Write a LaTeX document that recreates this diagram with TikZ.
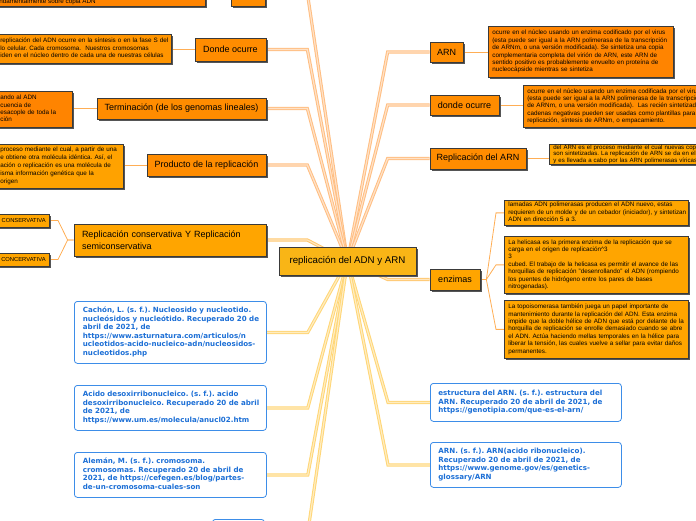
\documentclass[tikz,border=0pt]{standalone}
\usepackage{fontspec}
\setmainfont{Liberation Sans}
\newfontfamily\reffont{DejaVu Sans}
\usetikzlibrary{shadows}
\pgfdeclarelayer{bg}
\pgfsetlayers{bg,main}
\definecolor{orgN}{HTML}{FF8C00}
\definecolor{ambN}{HTML}{FFA500}
\definecolor{centc}{HTML}{F9B516}
\definecolor{txtA}{HTML}{FF8400}
\definecolor{txtB}{HTML}{FF9500}
\definecolor{txtC}{HTML}{FFA200}
\definecolor{borderc}{HTML}{3A3A3A}
\definecolor{shadowc}{HTML}{555555}
\definecolor{refline}{HTML}{3D8DE8}
\definecolor{reftext}{HTML}{1C6FD6}
\definecolor{orgC}{HTML}{FFBE82}
\definecolor{ambC}{HTML}{FFC870}
\definecolor{yelC}{HTML}{FFD676}
\definecolor{thinc}{HTML}{FFAE55}
\newcommand{\lns}[1]{\begin{tabular}{@{}l@{}}#1\end{tabular}}
\tikzset{
  shd/.style={general shadow={fill=shadowc, shadow xshift=1.8pt, shadow yshift=-1.8pt}},
  hbox/.style={draw=borderc, line width=0.7pt, fill=#1, shd, inner sep=0pt,
    font=\fontsize{9}{12}\selectfont, text=black},
  tbox/.style={draw=borderc, line width=0.7pt, fill=#1, shd, inner xsep=4pt, inner ysep=0pt,
    align=left, font=\fontsize{6.3}{7.4}\selectfont, anchor=north west},
  rbox/.style={draw=refline, line width=0.8pt, rounded corners=3pt, fill=white, text=reftext,
    inner xsep=8.5pt, inner ysep=0pt, align=left,
    font=\reffont\fontsize{7.1}{8.5}\selectfont\bfseries, anchor=north west},
  conn/.style={draw=#1, line width=1pt, double=#1!45!white, double distance=1.2pt},
  thinline/.style={draw=thinc, line width=0.8pt},
}
\frenchspacing
\begin{document}
\begin{tikzpicture}[x=1pt,y=-1pt]
\useasboundingbox (0,0) rectangle (696,520);

% central
\node[hbox=centc, minimum width=137pt, minimum height=28pt, font=\fontsize{9.7}{12}\selectfont] (c) at (347.5,261) {replicación del ADN y ARN};

% partial top nodes
\node[hbox=txtA, minimum width=214pt, minimum height=27pt, anchor=south west] (topL) at (-9,7) {};
\node[anchor=base west, inner sep=0pt, font=\fontsize{6.3}{7.4}\selectfont] (topLt) at (-6,3) {fundamentalmente sobre copia ADN};
\node[hbox=orgN, minimum width=34pt, minimum height=22pt, anchor=south west] (topM) at (231,7) {};

% left topics
\node[hbox=orgN, minimum width=71pt, minimum height=23pt] (donde) at (230.5,49.5) {Donde ocurre};
\node[hbox=orgN, minimum width=169pt, minimum height=21pt] (term) at (181.5,108.5) {Terminación (de los genomas lineales)};
\node[hbox=orgN, minimum width=119pt, minimum height=22pt] (prod) at (206.5,165) {Producto de la replicación};
\node[hbox=ambN, minimum width=192pt, minimum height=32pt, inner xsep=8pt, text width=176pt, align=left] (repc) at (170,240) {Replicación conservativa Y Replicación\\semiconservativa};

% left texts
\node[tbox=txtB, text width=167pt, minimum height=29pt] (dondeT) at (-4,34) {\lns{replicación del ADN ocurre en la síntesis o en la fase S del\\lo celular. Cada cromosoma.\ \ Nuestros cromosomas\\iden en el núcleo dentro de cada una de nuestras células}};
\node[tbox=txtA, text width=68pt, minimum height=36pt] (termT) at (-4,91) {\lns{ando al ADN\\cuencia de\\esacople de toda la\\ción}};
\node[tbox=txtC, text width=119pt, minimum height=44pt, font=\fontsize{6.3}{8}\selectfont] (prodT) at (-4,144) {\lns{proceso mediante el cual, a partir de una\\e obtiene otra molécula idéntica. Así, el\\ación o replicación es una molécula de\\isma información genética que la\\origen}};
\node[hbox=ambN, font=\fontsize{5.8}{7}\selectfont, inner xsep=4pt, minimum height=13pt, anchor=east] (cons1) at (50,220.5) {CONSERVATIVA};
\node[hbox=ambN, font=\fontsize{5.8}{7}\selectfont, inner xsep=4pt, minimum height=13pt, anchor=east] (cons2) at (50,259.5) {CONCERVATIVA};

% right topics
\node[hbox=orgN, minimum width=33pt, minimum height=20pt] (arn) at (446.5,52) {ARN};
\node[hbox=orgN, minimum width=69pt, minimum height=20pt] (dondeR) at (464.5,105) {donde ocurre};
\node[hbox=orgN, minimum width=96pt, minimum height=21pt] (repa) at (478,158.5) {Replicación del ARN};
\node[hbox=ambN, minimum width=50pt, minimum height=21pt] (enz) at (455,279.5) {enzimas};

% right texts
\node[tbox=txtA, text width=177pt, minimum height=51pt] (arnT) at (488,26) {\lns{ocurre en el núcleo usando un enzima codificado por el virus\\(esta puede ser igual a la ARN polimerasa de la transcripción\\de ARNm, o una versión modificada). Se sintetiza una copia\\complementaria completa del virión de ARN, este ARN de\\sentido positivo es probablemente envuelto en proteína de\\nucleocápside mientras se sintetiza}};
\node[tbox=orgN, text width=200pt, minimum height=42pt] (dondeRT) at (523,85) {\lns{ocurre en el núcleo usando un enzima codificada por el virus\\(esta puede ser igual a la ARN polimerasa de la transcripción\\de ARNm, o una versión modificada).\ \ Las recién sintetizadas\\cadenas negativas pueden ser usadas como plantillas para\\replicación, síntesis de ARNm, o empacamiento.}};
\node[tbox=ambN, text width=170pt, minimum height=20pt, font=\fontsize{6.1}{6.5}\selectfont] (repaT) at (549,144) {\lns{del ARN es el proceso mediante el cual nuevas copias\\son sintetizadas. La replicación de ARN se da en el\\y es llevada a cabo por las ARN polimerasas víricas.}};
\node[tbox=ambN, text width=176pt, minimum height=25pt] (enz1) at (504,200) {\lns{lamadas ADN polimerasas producen el ADN nuevo, estas\\requieren de un molde y de un cebador (iniciador), y sintetizan\\ADN en dirección 5 a 3.}};
\node[tbox=ambN, text width=176pt, minimum height=57pt] (enz2) at (504,236) {\lns{La helicasa es la primera enzima de la replicación que se\\carga en el origen de replicación\^{}3\\3\\ cubed. El trabajo de la helicasa es permitir el avance de las\\horquillas de replicación "desenrollando" el ADN (rompiendo\\los puentes de hidrógeno entre los pares de bases\\nitrogenadas).}};
\node[tbox=ambN, text width=176pt, minimum height=58pt] (enz3) at (504,300) {\lns{La topoisomerasa también juega un papel importante de\\mantenimiento durante la replicación del ADN. Esta enzima\\impide que la doble hélice de ADN que está por delante de la\\horquilla de replicación se enrolle demasiado cuando se abre\\el ADN. Actúa haciendo mellas temporales en la hélice para\\liberar la tensión, las cuales vuelve a sellar para evitar daños\\permanentes.}};

% references
\node[rbox, text width=175pt, minimum height=62pt] (ref1) at (74,301) {\lns{Cachón, L. (s. f.). Nucleosido y nucleotido.\\nucleósidos y nucleótido. Recuperado 20 de\\abril de 2021, de\\https://www.asturnatura.com/articulos/n\\ucleotidos-acido-nucleico-adn/nucleosidos-\\nucleotidos.php}};
\node[rbox, text width=175pt, minimum height=45pt] (ref2) at (74,385) {\lns{Acido desoxirribonucleico. (s. f.). acido\\desoxirribonucleico. Recuperado 20 de abril\\de 2021, de\\https://www.um.es/molecula/anucl02.htm}};
\node[rbox, text width=175pt, minimum height=45pt] (ref3) at (74,452) {\lns{Alemán, M. (s. f.). cromosoma.\\cromosomas. Recuperado 20 de abril de\\2021, de https://cefegen.es/blog/partes-\\de-un-cromosoma-cuales-son}};
\node[rbox, minimum width=52pt, minimum height=26pt, inner sep=0pt] (ref4) at (212,519) {};
\node[rbox, inner xsep=8pt, text width=175pt, minimum height=38pt] (ref5) at (430,383) {\lns{estructura del ARN. (s. f.). estructura del\\ARN. Recuperado 20 de abril de 2021, de\\https://genotipia.com/que-es-el-arn/}};
\node[rbox, inner xsep=8pt, text width=175pt, minimum height=45pt] (ref6) at (430,442) {\lns{ARN. (s. f.). ARN(acido ribonucleico).\\Recuperado 20 de abril de 2021, de\\https://www.genome.gov/es/genetics-\\glossary/ARN}};

\begin{pgfonlayer}{bg}
  % main connectors, left
  \draw[conn=orgC] (c.center) -- ([xshift=42pt]topM.east) -- (topM.east);
  \draw[conn=orgC] (c.center) -- ([xshift=41pt]donde.east) -- (donde.east);
  \draw[conn=orgC] (c.center) -- ([xshift=41pt]term.east) -- (term.east);
  \draw[conn=orgC] (c.center) -- ([xshift=41pt]prod.east) -- (prod.east);
  \draw[conn=ambC] (c.center) -- ([xshift=41pt]repc.east) -- (repc.east);
  \draw[conn=yelC] (c.center) -- ([xshift=41pt]ref1.east) -- (ref1.east);
  \draw[conn=yelC] (c.center) -- ([xshift=41pt]ref2.east) -- (ref2.east);
  \draw[conn=yelC] (c.center) -- ([xshift=41pt]ref3.east) -- (ref3.east);
  \draw[conn=yelC] (c.center) -- ([xshift=43pt]ref4.east) -- (ref4.east);
  % main connectors, right
  \draw[conn=orgC] (c.center) -- ([xshift=-42pt]arn.west) -- (arn.west);
  \draw[conn=orgC] (c.center) -- ([xshift=-42pt]dondeR.west) -- (dondeR.west);
  \draw[conn=orgC] (c.center) -- ([xshift=-42pt]repa.west) -- (repa.west);
  \draw[conn=ambC] (c.center) -- ([xshift=-42pt]enz.west) -- (enz.west);
  \draw[conn=yelC] (c.center) -- ([xshift=-42pt]ref5.west) -- (ref5.west);
  \draw[conn=yelC] (c.center) -- ([xshift=-42pt]ref6.west) -- (ref6.west);
  % thin connectors to text boxes
  \draw[thinline] (donde.west) -- (dondeT.east |- donde.west);
  \draw[thinline] (term.west) -- (termT.east |- term.west);
  \draw[thinline] (prod.west) -- (prodT.east |- prod.west);
  \draw[thinline] (arn.east) -- (arnT.west |- arn.east);
  \draw[thinline] (dondeR.east) -- (dondeRT.west |- dondeR.east);
  \draw[thinline] (repa.east) -- (repaT.west |- repa.east);
  \draw[thinline] (enz.east) -- ++(6,0) -- ([xshift=-8pt]enz1.west) -- (enz1.west);
  \draw[thinline] (enz.east) -- ++(6,0) -- ([xshift=-8pt]enz2.west) -- (enz2.west);
  \draw[thinline] (enz.east) -- ++(6,0) -- ([xshift=-8pt]enz3.west) -- (enz3.west);
  \draw[thinline] (repc.west) -- ++(-6,0) -- ([xshift=8pt]cons1.east) -- (cons1.east);
  \draw[thinline] (repc.west) -- ++(-6,0) -- ([xshift=8pt]cons2.east) -- (cons2.east);
\end{pgfonlayer}
\end{tikzpicture}
\end{document}
